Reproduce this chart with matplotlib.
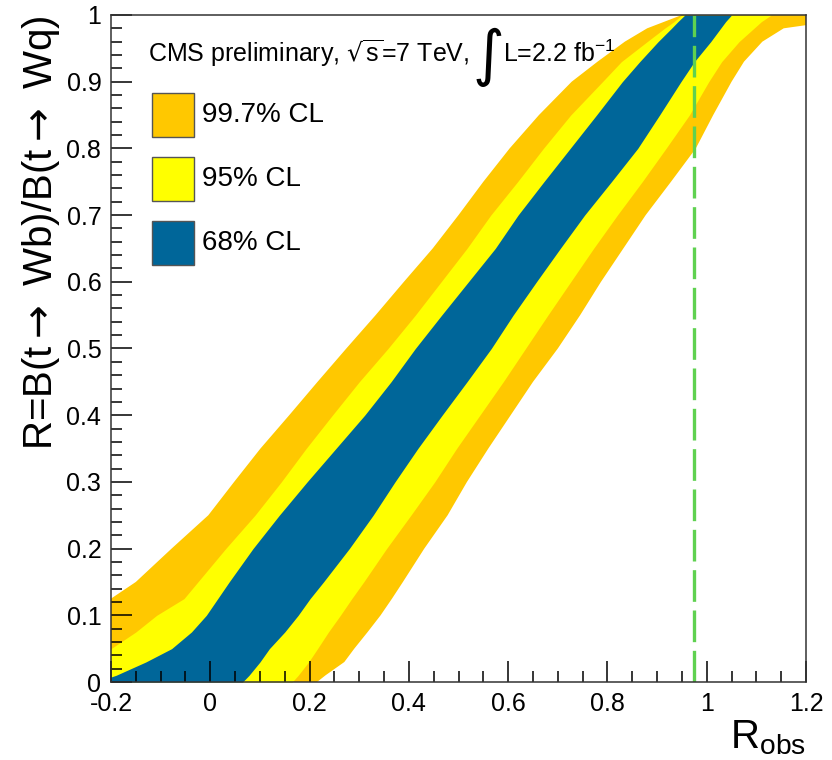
import matplotlib
matplotlib.use("Agg")
import matplotlib.pyplot as plt
from matplotlib.patches import Rectangle
from matplotlib.ticker import MultipleLocator

plt.rcParams['font.family'] = ['Liberation Sans', 'DejaVu Sans']
plt.rcParams['mathtext.fontset'] = 'dejavusans'

# confidence belt: R values and the R_obs interval edges at each of them
r_true = [0.0, 0.01, 0.03, 0.05, 0.075, 0.1, 0.125, 0.15, 0.2, 0.25, 0.3, 0.35, 0.4, 0.45,
          0.5, 0.55, 0.6, 0.65, 0.7, 0.75, 0.8, 0.85, 0.9, 0.93, 0.96, 0.98, 0.99, 1.0]

cl997_lo = [-0.45, -0.43, -0.39, -0.35, -0.30, -0.25, -0.2, -0.15, -0.078, -0.004, 0.048, 0.101, 0.159, 0.216,
            0.274, 0.333, 0.39, 0.448, 0.50, 0.55, 0.603, 0.662, 0.728, 0.78, 0.835, 0.88, 0.915, 0.95]
cl997_hi = [0.215, 0.232, 0.27, 0.29, 0.317, 0.343, 0.366, 0.388, 0.431, 0.478, 0.517, 0.56, 0.605, 0.65,
            0.70, 0.745, 0.787, 0.832, 0.877, 0.928, 0.978, 1.013, 1.05, 1.075, 1.112, 1.155, 1.25, 1.35]

cl95_lo = [-0.32, -0.29, -0.24, -0.2, -0.15, -0.108, -0.053, -0.025, 0.031, 0.09, 0.143, 0.193, 0.246, 0.30,
           0.358, 0.413, 0.465, 0.517, 0.565, 0.619, 0.671, 0.726, 0.79, 0.828, 0.88, 0.915, 0.934, 0.95]
cl95_hi = [0.165, 0.177, 0.198, 0.216, 0.238, 0.262, 0.285, 0.309, 0.355, 0.404, 0.452, 0.496, 0.543, 0.59,
           0.635, 0.68, 0.726, 0.772, 0.82, 0.87, 0.918, 0.965, 1.004, 1.03, 1.065, 1.095, 1.11, 1.13]

cl68_lo = [-0.23, -0.19, -0.13, -0.078, -0.038, -0.008, 0.015, 0.038, 0.086, 0.139, 0.195, 0.253, 0.311, 0.364,
           0.413, 0.466, 0.52, 0.574, 0.62, 0.672, 0.725, 0.778, 0.83, 0.865, 0.902, 0.929, 0.942, 0.956]
cl68_hi = [0.065, 0.078, 0.10, 0.119, 0.15, 0.177, 0.201, 0.228, 0.28, 0.328, 0.372, 0.418, 0.467, 0.517,
           0.566, 0.61, 0.657, 0.705, 0.754, 0.808, 0.861, 0.905, 0.948, 0.975, 1.008, 1.028, 1.038, 1.05]

r_measured = 0.975

x_ticks = [-0.2, 0, 0.2, 0.4, 0.6, 0.8, 1.0, 1.2]
y_ticks = [0, 0.1, 0.2, 0.3, 0.4, 0.5, 0.6, 0.7, 0.8, 0.9, 1.0]

band_labels = ['99.7% CL', '95% CL', '68% CL']
band_colors = ['#ffc800', '#ffff00', '#006699']

fig = plt.figure(figsize=(8.32, 7.6), dpi=100)
ax = fig.add_axes([0.1334, 0.1026, 0.8354, 0.8777])

ax.fill_betweenx(r_true, cl997_lo, cl997_hi, color=band_colors[0], lw=0)
ax.fill_betweenx(r_true, cl95_lo, cl95_hi, color=band_colors[1], lw=0)
ax.fill_betweenx(r_true, cl68_lo, cl68_hi, color=band_colors[2], lw=0)

ax.axvline(r_measured, color='#5fd150', lw=2.4, dashes=(9.5, 2.6))

ax.set_xlim(-0.2, 1.2)
ax.set_ylim(0, 1)

ax.set_xticks(x_ticks)
ax.set_xticklabels(['%g' % v for v in x_ticks])
ax.set_yticks(y_ticks)
ax.set_yticklabels(['%g' % v for v in y_ticks])
ax.xaxis.set_minor_locator(MultipleLocator(0.05))
ax.yaxis.set_minor_locator(MultipleLocator(0.02))
ax.tick_params(which='both', direction='in', top=False, right=False, width=1.1, labelsize=18)
ax.tick_params(which='major', length=15, pad=7)
ax.tick_params(which='minor', length=8)
for s in ax.spines.values():
    s.set_linewidth(1.1)
    s.set_color('#333333')

ax.set_ylabel(r'R=B(t$\rightarrow$ Wb)/B(t$\rightarrow$ Wq)', fontsize=29, loc='top')
ax.yaxis.set_label_coords(-0.07, 1.0)
ax.set_xlabel(r'R$_{\mathregular{obs}}$', fontsize=29, loc='right', labelpad=2)

# legend boxes, drawn by hand in axes coordinates
box_w, box_h = 0.0605, 0.066
for i, (lab, col) in enumerate(zip(band_labels, band_colors)):
    top = 0.883 - i * 0.0957
    ax.add_patch(Rectangle((0.059, top - box_h), box_w, box_h, transform=ax.transAxes,
                           facecolor=col, edgecolor='#555555', lw=1, zorder=5))
    ax.text(0.131, top - box_h / 2, lab, transform=ax.transAxes, fontsize=20,
            ha='left', va='center', zorder=5)

fig.text(148 / 832, 1 - 62 / 760, r'CMS preliminary, $\sqrt{\mathregular{s}}$=7 TeV,',
         fontsize=18, ha='left', va='baseline')
fig.text(473 / 832, 1 - 74 / 760, '∫', fontsize=44, ha='left', va='baseline',
         family=['DejaVu Sans'])
fig.text(503 / 832, 1 - 62 / 760, r'L=2.2 fb$^{\mathregular{-1}}$',
         fontsize=18, ha='left', va='baseline')

fig.savefig('out.png', dpi=100)
